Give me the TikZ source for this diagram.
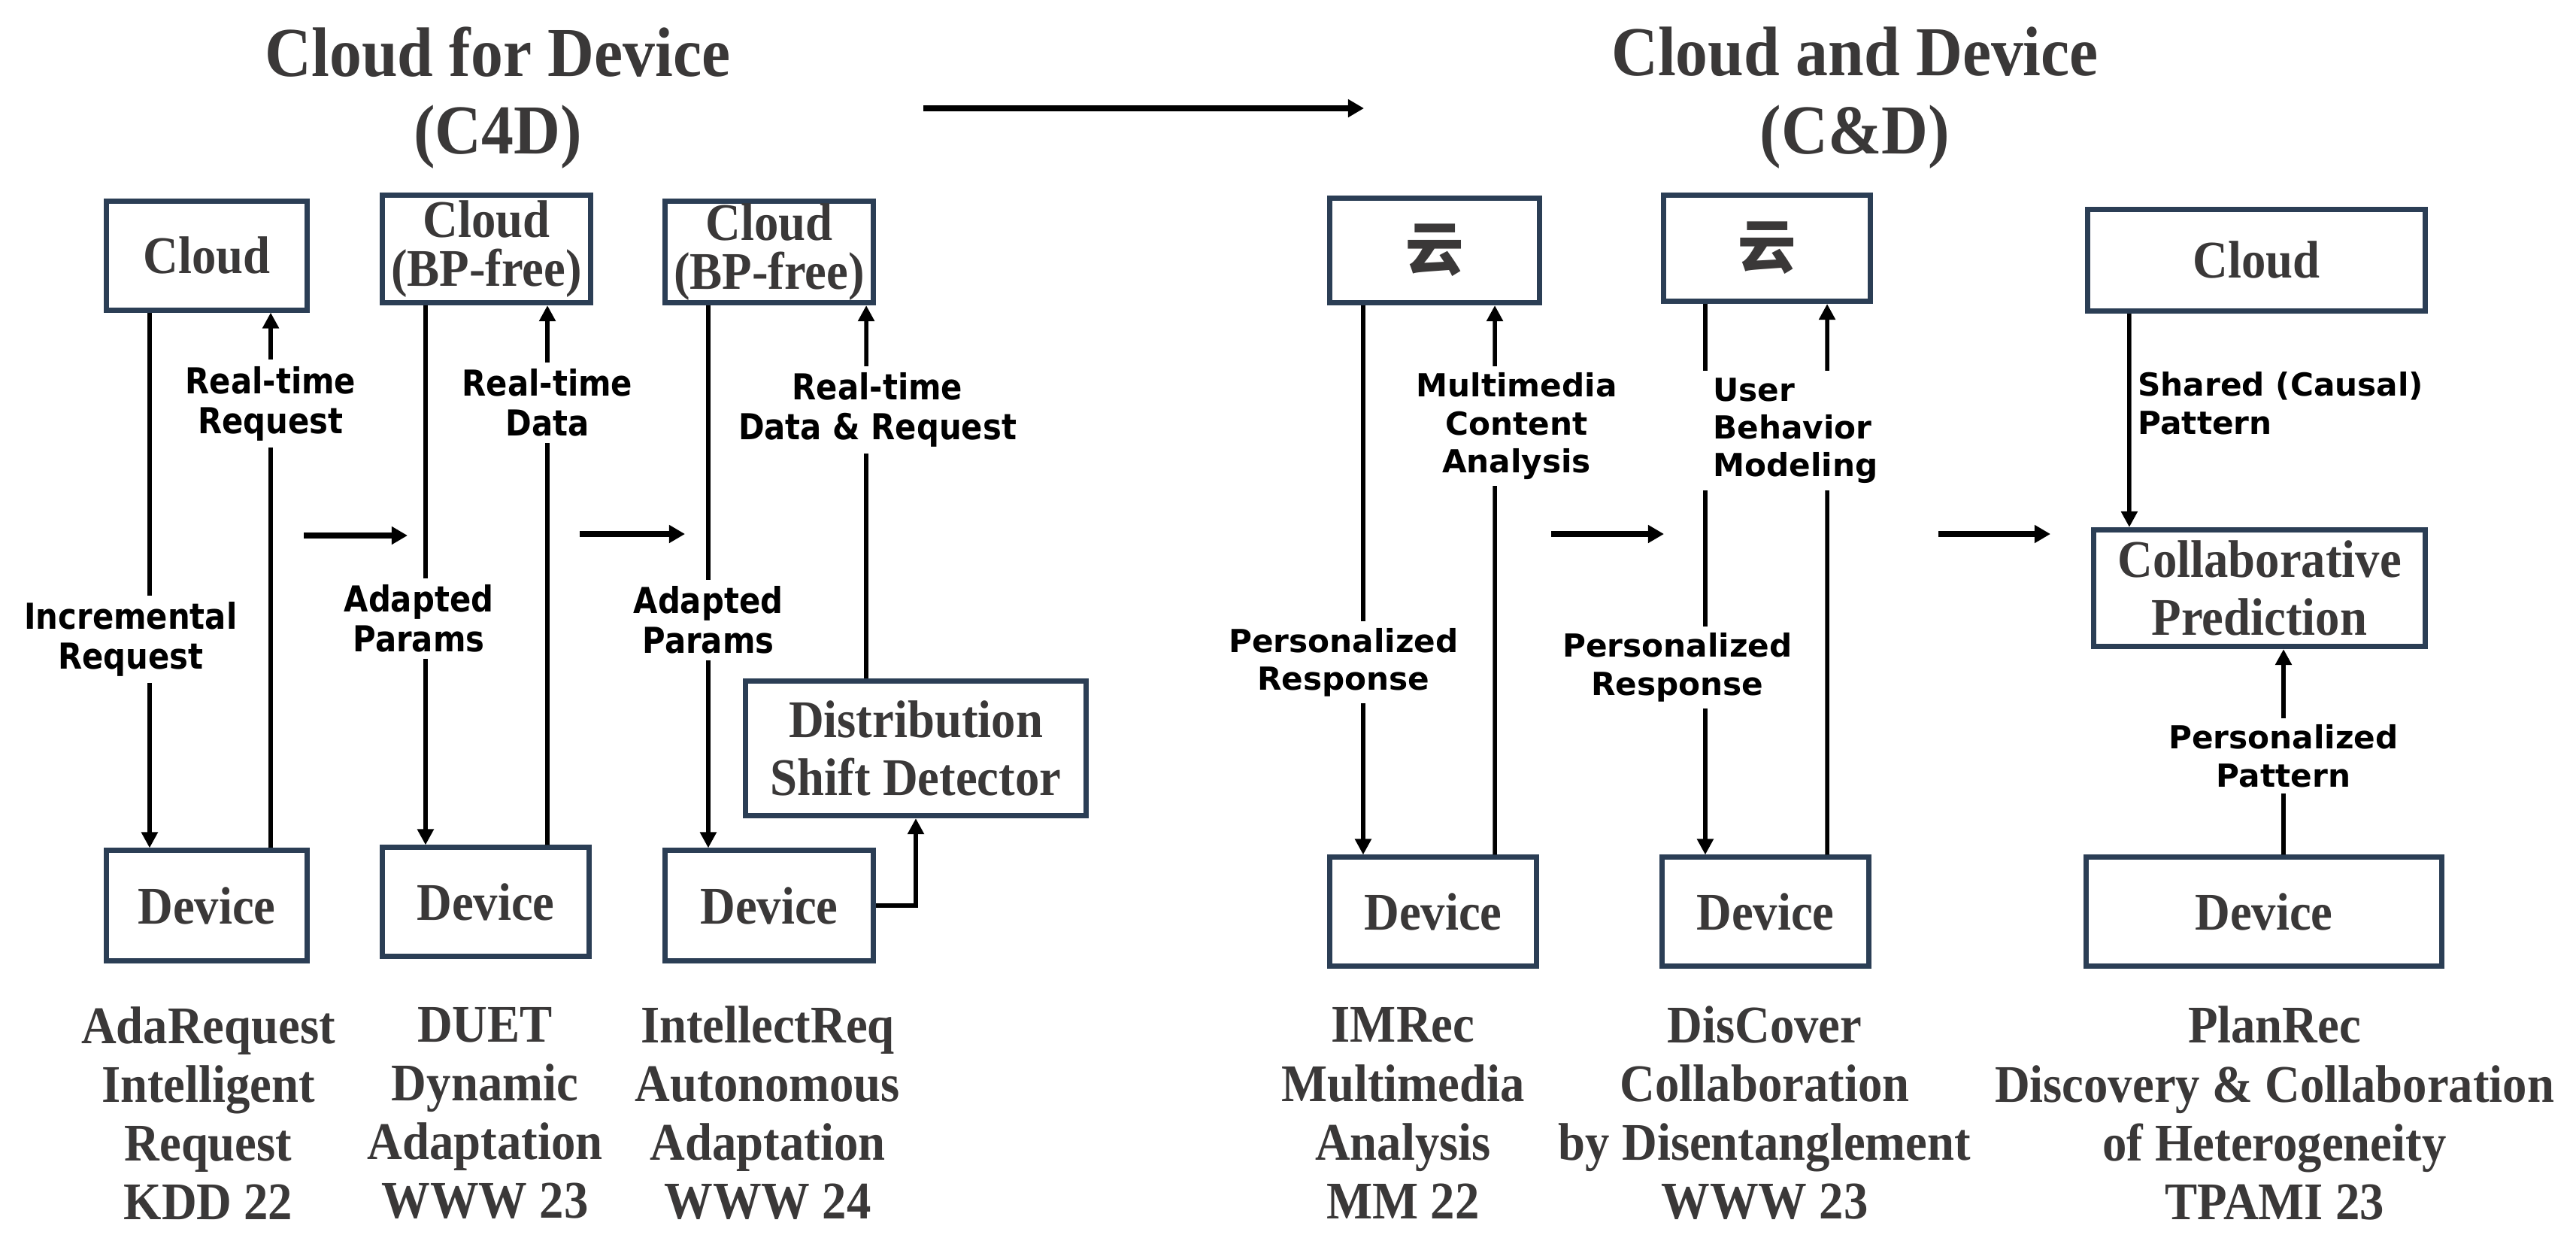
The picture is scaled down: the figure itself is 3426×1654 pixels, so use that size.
\documentclass[tikz,border=0pt]{standalone}
\usepackage{fontspec}
\setmainfont{Liberation Serif}[FakeStretch=0.92]
\newfontfamily\lblnarrow{DejaVu Sans}[FakeStretch=0.88]
\newfontfamily\lblsans{DejaVu Sans}
\newfontfamily\cjk{Noto Sans CJK SC}
\usetikzlibrary{arrows.meta,positioning}
\definecolor{boxblue}{RGB}{43,62,85}
\definecolor{txtgray}{RGB}{58,56,56}
\tikzset{
  box/.style={draw=boxblue, line width=2pt, text=txtgray, align=center, inner sep=0pt,
    font=\fontsize{20}{22}\selectfont\bfseries},
  tightbox/.style={box, font=\fontsize{20}{18.5}\selectfont\bfseries},
  yunbox/.style={box, font=\cjk\fontsize{22}{22}\selectfont\bfseries},
  heading/.style={text=txtgray, align=center, font=\fontsize{26.5}{29.5}\selectfont\bfseries},
  caption/.style={text=txtgray, align=center, font=\fontsize{20}{22.2}\selectfont\bfseries},
  lblL/.style={fill=white, align=center, inner sep=2.5pt, font=\lblnarrow\fontsize{13.5}{15}\selectfont\bfseries},
  lblR/.style={fill=white, align=center, inner sep=2.5pt, font=\lblsans\fontsize{12}{14.3}\selectfont\bfseries},
  conn/.style={line width=1.6pt, -{Triangle[length=6pt,width=6pt]}},
  flow/.style={line width=2pt, -{Triangle[length=6pt,width=6.5pt]}}
}
\begin{document}
\begin{tikzpicture}[x=0.01cm, y=-0.01cm]
        \useasboundingbox (0,0) rectangle (3426,1654);

        % headings
        \node[heading] (headC4D) at (662,130) {Cloud for Device\\(C4D)};
        \node[heading] (headCD) at (2467,130) {Cloud and Device\\(C\&D)};
        \coordinate (topstart) at (1228,144);
        \coordinate (topend) at (1814,144);
        \draw[flow] (topstart) -- (topend);

        % AdaRequest
        \node[box, minimum width=2.66cm, minimum height=1.44cm] (cloudA) at (275,340) {Cloud};
        \node[box, minimum width=2.66cm, minimum height=1.46cm] (devA) at (275,1204) {Device};
        \draw[conn] ([xshift=-0.76cm]cloudA.south) -- node[lblL, pos=0.61, xshift=-0.25cm] {Incremental\\Request} ([xshift=-0.76cm]devA.north);
        \draw[conn] ([xshift=0.85cm]devA.north) -- node[lblL, pos=0.83] {Real-time\\Request} ([xshift=0.85cm]cloudA.south);
        \node[caption] (capA) at (277,1480) {AdaRequest\\Intelligent\\Request\\KDD 22};

        \coordinate (flowA) at (404,712);
        \coordinate (flowB) at (542,712);
        \draw[flow] (flowA) -- (flowB);

        % DUET
        \node[tightbox, minimum width=2.77cm, minimum height=1.43cm] (cloudB) at (647,331) {Cloud\\(BP-free)};
        \node[box, minimum width=2.75cm, minimum height=1.44cm] (devB) at (646,1199) {Device};
        \draw[conn] ([xshift=-0.81cm]cloudB.south) -- node[lblL, pos=0.58, xshift=-0.09cm] {Adapted\\Params} ([xshift=-0.80cm]devB.north);
        \draw[conn] ([xshift=0.82cm]devB.north) -- node[lblL, pos=0.82] {Real-time\\Data} ([xshift=0.81cm]cloudB.south);
        \node[caption] (capB) at (645,1480) {DUET\\Dynamic\\Adaptation\\WWW 23};

        \coordinate (flowC) at (771,710);
        \coordinate (flowD) at (911,710);
        \draw[flow] (flowC) -- (flowD);

        % IntellectReq
        \node[tightbox, minimum width=2.77cm, minimum height=1.35cm] (cloudC) at (1023,335) {Cloud\\(BP-free)};
        \node[box, minimum width=2.77cm, minimum height=1.46cm] (devC) at (1023,1204) {Device};
        \node[box, minimum width=4.52cm, minimum height=1.79cm] (detector) at (1218,995) {Distribution\\Shift Detector};
        \draw[conn] ([xshift=-0.81cm]cloudC.south) -- node[lblL, pos=0.58] {Adapted\\Params} ([xshift=-0.81cm]devC.north);
        \draw[conn] ([xshift=-0.66cm]detector.north) -- node[lblL, pos=0.72, xshift=0.15cm] {Real-time\\Data \& Request} ([xshift=1.29cm]cloudC.south);
        \draw[conn] (devC.east) -| (detector.south);
        \node[caption] (capC) at (1021,1480) {IntellectReq\\Autonomous\\Adaptation\\WWW 24};

        % IMRec
        \node[yunbox, minimum width=2.78cm, minimum height=1.39cm] (yunA) at (1908,333) {云};
        \node[box, minimum width=2.75cm, minimum height=1.44cm] (devD) at (1906,1212) {Device};
        \draw[conn] ([xshift=-0.95cm]yunA.south) -- node[lblR, pos=0.65, xshift=-0.26cm] {Personalized\\Response} ([xshift=-0.93cm]devD.north);
        \draw[conn] ([xshift=0.82cm]devD.north) -- node[lblR, pos=0.78, xshift=0.29cm] {Multimedia\\Content\\Analysis} ([xshift=0.80cm]yunA.south);
        \node[caption] (capD) at (1866,1480) {IMRec\\Multimedia\\Analysis\\MM 22};

        \coordinate (flowE) at (2063,710);
        \coordinate (flowF) at (2213,710);
        \draw[flow] (flowE) -- (flowF);

        % DisCover
        \node[yunbox, minimum width=2.75cm, minimum height=1.41cm] (yunB) at (2350,330) {云};
        \node[box, minimum width=2.75cm, minimum height=1.44cm] (devE) at (2348,1212) {Device};
        \draw[conn] ([xshift=-0.82cm]yunB.south) -- node[lblR, pos=0.66, xshift=-0.37cm] {Personalized\\Response} ([xshift=-0.80cm]devE.north);
        \draw[conn] ([xshift=0.82cm]devE.north) -- node[lblR, align=left, inner xsep=5pt, pos=0.77, xshift=-0.42cm] {User\\Behavior\\Modeling} ([xshift=0.80cm]yunB.south);
        \node[caption] (capE) at (2347,1480) {DisCover\\Collaboration\\by Disentanglement\\WWW 23};

        \coordinate (flowG) at (2578,710);
        \coordinate (flowH) at (2727,710);
        \draw[flow] (flowG) -- (flowH);

        % PlanRec
        \node[box, minimum width=4.49cm, minimum height=1.35cm] (cloudD) at (3001,346) {Cloud};
        \node[box, minimum width=4.41cm, minimum height=1.55cm] (collab) at (3005,782) {Collaborative\\Prediction};
        \node[box, minimum width=4.73cm, minimum height=1.44cm] (devF) at (3011,1212) {Device};
        \draw[conn] ([xshift=-1.69cm]cloudD.south) -- node[lblR, pos=0.42, right, fill=none, align=left] {Shared (Causal)\\Pattern} ([xshift=-1.73cm]collab.north);
        \draw[conn] ([xshift=0.26cm]devF.north) -- node[lblR, pos=0.48] {Personalized\\Pattern} ([xshift=0.32cm]collab.south);
        \node[caption] (capF) at (3025,1480) {PlanRec\\Discovery \& Collaboration\\of Heterogeneity\\TPAMI 23};
\end{tikzpicture}
\end{document}
